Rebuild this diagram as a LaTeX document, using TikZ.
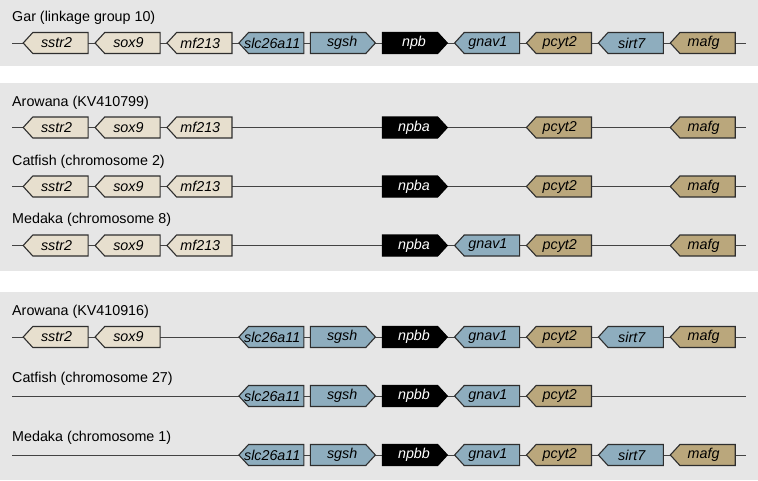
\documentclass[tikz,border=0pt]{standalone}
\usepackage{fontspec}
\setmainfont{Liberation Sans}
\usetikzlibrary{shapes.symbols}

\definecolor{panelgray}{HTML}{E6E6E6}
\definecolor{genecream}{HTML}{E7DFCE}
\definecolor{genesteel}{HTML}{8EADBE}
\definecolor{genekhaki}{HTML}{BAA77C}
\definecolor{geneedge}{HTML}{2E2E2E}

\tikzset{
    genename/.style={inner sep=0pt, font=\fontsize{14.3}{17}\selectfont\itshape},
    gene/.style={signal, signal from=nowhere, signal pointer angle=95,
        draw=geneedge, line width=1.1pt, inner sep=0pt,
        minimum width=65pt, minimum height=21pt},
    rev/.style={gene, signal to=west, label={[genename, xshift=-4pt]center:#1}},
    fwd/.style={gene, signal to=east, label={[genename, xshift=4pt]center:#1}},
    cream/.style={rev=#1, fill=genecream},
    steel/.style={rev=#1, fill=genesteel},
    steelfwd/.style={fwd=#1, fill=genesteel},
    khaki/.style={rev=#1, fill=genekhaki},
    npbox/.style={fwd=#1, fill=black, draw=black, label={[genename, text=white, xshift=4pt]center:#1}},
    species/.style={anchor=west, inner sep=0pt, font=\fontsize{14.3}{17}\selectfont},
    backbone/.style={draw=geneedge!90, line width=1pt}
}

\begin{document}
\begin{tikzpicture}[x=1pt, y=-1pt]
    \useasboundingbox (0,0) rectangle (758,480);

    % Grey panels
    \fill[panelgray] (0,0) rectangle (758,66);
    \fill[panelgray] (0,83) rectangle (758,271);
    \fill[panelgray] (0,292) rectangle (758,480);

    % Species labels
    \node[species] (lgar) at (12,18) {Gar (linkage group 10)};
    \node[species] (laro1) at (12,103) {Arowana (KV410799)};
    \node[species] (lcat2) at (12,162) {Catfish (chromosome 2)};
    \node[species] (lmed8) at (12,220) {Medaka (chromosome 8)};
    \node[species] (laro2) at (12,312) {Arowana (KV410916)};
    \node[species] (lcat27) at (12,379) {Catfish (chromosome 27)};
    \node[species] (lmed1) at (12,438) {Medaka (chromosome 1)};

    % Backbones
    \foreach \r/\y in {gar/43, aroa/127.5, cata/186.5, meda/245.5, arob/337, catb/396, medb/455} {
        \coordinate (\r-s) at (12,\y);
        \coordinate (\r-e) at (746,\y);
        \draw[backbone] (\r-s) -- (\r-e);
    }

    % Gar (node sits at the centre of the gene body, +5 for reverse, -5 for forward)
    \foreach \i/\g/\k/\d in {0/sstr2/cream/5, 1/sox9/cream/5, 2/mf213/cream/5, 3/slc26a11/steel/5,
        4/sgsh/steelfwd/-5, 5/npb/npbox/-5, 6/gnav1/steel/5, 7/pcyt2/khaki/5, 8/sirt7/steel/5, 9/mafg/khaki/5} {
        \node[\k=\g] (gar-\g) at ({55.5+71.9*\i+\d},43) {};
    }

    % Arowana, Catfish, Medaka (npba)
    \foreach \r/\y in {aroa/127.5, cata/186.5} {
        \foreach \i/\g/\k/\d in {0/sstr2/cream/5, 1/sox9/cream/5, 2/mf213/cream/5,
            5/npba/npbox/-5, 7/pcyt2/khaki/5, 9/mafg/khaki/5} {
            \node[\k=\g] (\r-\g) at ({55.5+71.9*\i+\d},\y) {};
        }
    }
    \foreach \i/\g/\k/\d in {0/sstr2/cream/5, 1/sox9/cream/5, 2/mf213/cream/5,
        5/npba/npbox/-5, 6/gnav1/steel/5, 7/pcyt2/khaki/5, 9/mafg/khaki/5} {
        \node[\k=\g] (meda-\g) at ({55.5+71.9*\i+\d},245.5) {};
    }

    % Arowana, Catfish, Medaka (npbb)
    \foreach \i/\g/\k/\d in {0/sstr2/cream/5, 1/sox9/cream/5, 3/slc26a11/steel/5, 4/sgsh/steelfwd/-5,
        5/npbb/npbox/-5, 6/gnav1/steel/5, 7/pcyt2/khaki/5, 8/sirt7/steel/5, 9/mafg/khaki/5} {
        \node[\k=\g] (arob-\g) at ({55.5+71.9*\i+\d},337) {};
    }
    \foreach \i/\g/\k/\d in {3/slc26a11/steel/5, 4/sgsh/steelfwd/-5, 5/npbb/npbox/-5,
        6/gnav1/steel/5, 7/pcyt2/khaki/5} {
        \node[\k=\g] (catb-\g) at ({55.5+71.9*\i+\d},396) {};
    }
    \foreach \i/\g/\k/\d in {3/slc26a11/steel/5, 4/sgsh/steelfwd/-5, 5/npbb/npbox/-5,
        6/gnav1/steel/5, 7/pcyt2/khaki/5, 8/sirt7/steel/5, 9/mafg/khaki/5} {
        \node[\k=\g] (medb-\g) at ({55.5+71.9*\i+\d},455) {};
    }
\end{tikzpicture}
\end{document}
